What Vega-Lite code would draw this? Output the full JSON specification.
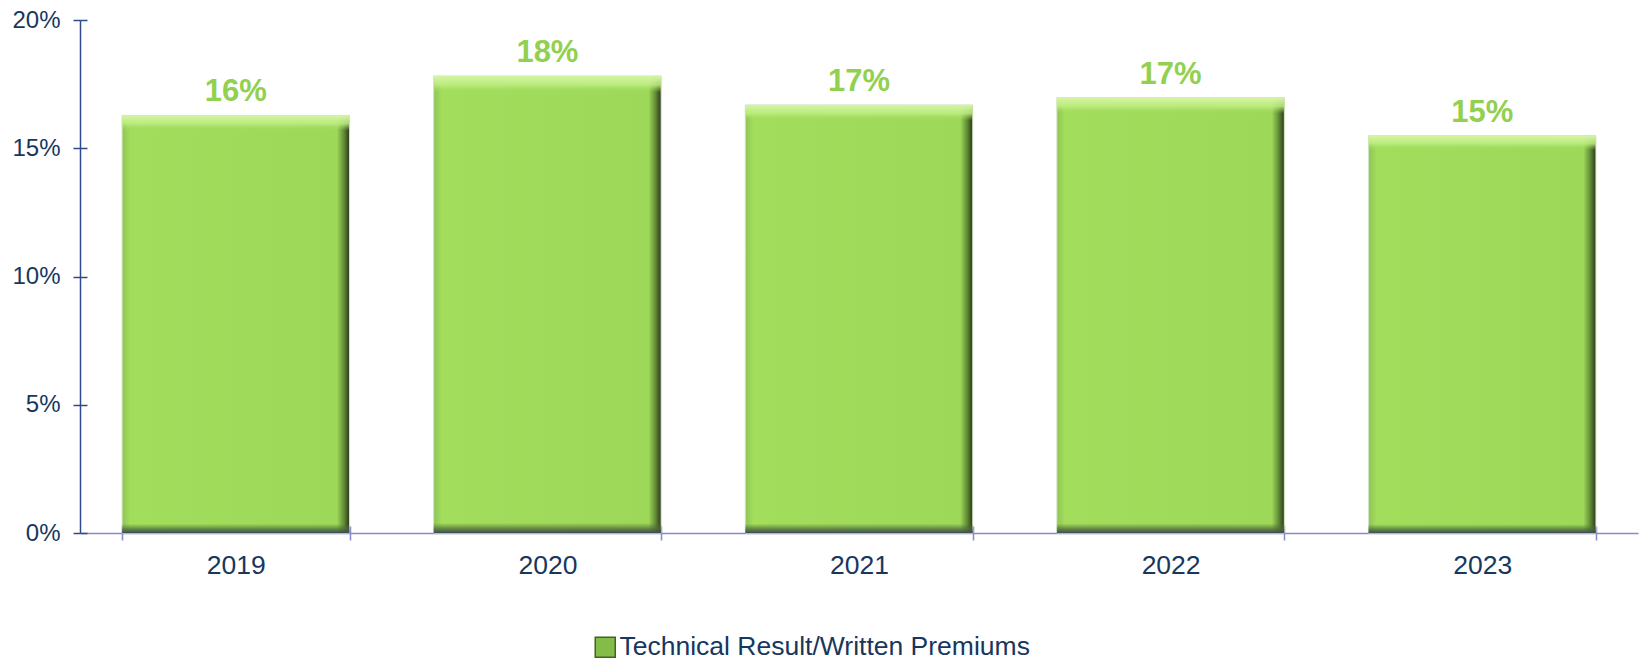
{
  "$schema": "https://vega.github.io/schema/vega-lite/v6.json",
  "autosize": {"type": "none"},
  "padding": {"left": 80, "top": 20, "right": 8, "bottom": 129},
  "width": 1558,
  "height": 513,
  "background": "white",
  "config": {
    "view": {"stroke": null},
    "font": "Liberation Sans",
    "axis": {"labelFont": "Liberation Sans", "labelColor": "#17375E", "grid": false}
  },
  "data": {
    "values": [
      {"year": "2019", "value": 0.1628, "series": "Technical Result/Written Premiums"},
      {"year": "2020", "value": 0.1782, "series": "Technical Result/Written Premiums"},
      {"year": "2021", "value": 0.1669, "series": "Technical Result/Written Premiums"},
      {"year": "2022", "value": 0.1697, "series": "Technical Result/Written Premiums"},
      {"year": "2023", "value": 0.1549, "series": "Technical Result/Written Premiums"}
    ]
  },
  "encoding": {
    "x": {"field": "year", "type": "nominal", "scale": {"paddingInner": 0.27, "paddingOuter": 0.135}},
    "y": {"field": "value", "type": "quantitative", "scale": {"domain": [0, 0.2]}}
  },
  "layer": [
    {
      "mark": {
        "type": "bar",
        "stroke": "#d4e4c4",
        "strokeWidth": 1,
        "color": {
          "gradient": "linear", "x1": 0, "y1": 0, "x2": 1, "y2": 0,
          "stops": [
            {"offset": 0, "color": "#8fc455"},
            {"offset": 0.035, "color": "#a2dd5c"},
            {"offset": 0.945, "color": "#9dd859"},
            {"offset": 0.975, "color": "#628c36"},
            {"offset": 1, "color": "#2a361c"}
          ]
        }
      },
      "encoding": {
        "x": {"field": "year", "type": "nominal", "title": null,
          "axis": {"orient": "bottom", "labelAngle": 0, "labelFontSize": 26.5, "labelPadding": 12,
            "domainColor": "#8888CC", "domainWidth": 1.5, "tickColor": "#8888CC", "tickWidth": 1.5, "tickSize": 7, "tickBand": "extent"}},
        "y": {"field": "value", "type": "quantitative", "title": null,
          "axis": {"orient": "left", "format": ".0%", "values": [0, 0.05, 0.1, 0.15, 0.2], "labelFontSize": 24, "labelPadding": 13,
            "domainColor": "#2E4A8A", "domainWidth": 1.5, "tickColor": "#2E4A8A", "tickWidth": 1.5, "tickSize": 7}}
      }
    },
    {
      "mark": {
        "type": "bar",
        "color": {
          "gradient": "linear", "x1": 0, "y1": 0, "x2": 0, "y2": 1,
          "stops": [
            {"offset": 0, "color": "rgba(215,245,165,1)"},
            {"offset": 0.02, "color": "rgba(190,238,130,0.85)"},
            {"offset": 0.036, "color": "rgba(160,220,90,0)"},
            {"offset": 0.978, "color": "rgba(80,110,50,0)"},
            {"offset": 0.99, "color": "rgba(75,105,55,0.7)"},
            {"offset": 1, "color": "rgba(60,75,90,1)"}
          ]
        }
      },
      "encoding": {
        "x": {"field": "year", "type": "nominal", "title": null,
          "axis": {"orient": "bottom", "labels": false, "domain": false, "tickColor": "#8888CC", "tickWidth": 1.5, "tickSize": -7, "tickBand": "extent"}},
        "y": {"field": "value", "type": "quantitative", "title": null,
          "axis": {"orient": "left", "labels": false, "domain": false, "values": [0, 0.05, 0.1, 0.15, 0.2], "tickColor": "#2E4A8A", "tickWidth": 1.5, "tickSize": -7}}
      }
    },
    {
      "mark": {"type": "text", "font": "Liberation Sans", "fontWeight": "bold", "fontSize": 31, "color": "#92D050", "baseline": "alphabetic", "dy": -14},
      "encoding": {
        "x": {"field": "year", "type": "nominal", "axis": null},
        "y": {"field": "value", "type": "quantitative", "axis": null},
        "text": {"field": "value", "type": "quantitative", "format": ".0%"}
      }
    },
    {
      "mark": {"type": "point", "shape": "square", "filled": true, "size": 0, "opacity": 0},
      "encoding": {
        "x": {"field": "year", "type": "nominal", "axis": null},
        "y": {"field": "value", "type": "quantitative", "axis": null},
        "color": {"field": "series", "type": "nominal", "scale": {"range": ["#84bc48"]}, "title": null,
          "legend": {"orient": "none", "legendX": 512, "legendY": 614, "symbolType": "square", "symbolSize": 400,
            "symbolOpacity": 1, "symbolStrokeColor": "#3f6422", "symbolStrokeWidth": 1.5,
            "labelFontSize": 26.5, "labelColor": "#17375E", "labelFont": "Liberation Sans", "labelOffset": 1, "labelLimit": 0}}
      }
    }
  ],
  "resolve": {"axis": {"x": "independent", "y": "independent"}}
}
